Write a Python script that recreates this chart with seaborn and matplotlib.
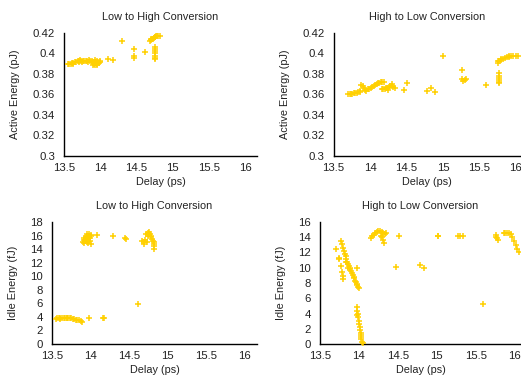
import matplotlib
matplotlib.use("Agg")
import matplotlib.pyplot as plt
import seaborn as sns
import pandas as pd

# ---------------- data ----------------
# Low to High Conversion: delay (ps) vs active energy (pJ)
lh_act_delay = [13.55, 13.57, 13.59, 13.61, 13.63, 13.65, 13.67, 13.69, 13.71, 13.72,
                13.74, 13.76, 13.78, 13.80, 13.82, 13.84, 13.86, 13.88, 13.90, 13.91,
                13.92, 13.93, 13.94, 13.95, 13.96, 13.97, 13.98, 13.99, 14.00, 13.90,
                13.93, 13.96, 13.70, 13.75, 13.62, 13.83,
                14.10, 14.18, 14.30, 14.46, 14.46, 14.46, 14.62,
                14.75, 14.75, 14.75, 14.75, 14.75, 14.75, 14.75,
                14.68, 14.70, 14.71, 14.72, 14.74, 14.75, 14.76, 14.78, 14.80, 14.82, 14.70, 14.77]
lh_act_energy = [0.390, 0.390, 0.390, 0.391, 0.391, 0.392, 0.392, 0.393, 0.393, 0.394,
                 0.393, 0.393, 0.393, 0.393, 0.393, 0.394, 0.393, 0.393, 0.392, 0.391,
                 0.390, 0.389, 0.391, 0.393, 0.390, 0.392, 0.391, 0.393, 0.392, 0.389,
                 0.394, 0.389, 0.392, 0.392, 0.390, 0.392,
                 0.395, 0.394, 0.412, 0.404, 0.398, 0.396, 0.401,
                 0.406, 0.404, 0.402, 0.400, 0.398, 0.396, 0.395,
                 0.412, 0.413, 0.414, 0.414, 0.415, 0.416, 0.416, 0.417, 0.417, 0.417, 0.414, 0.417]

# High to Low Conversion: delay (ps) vs active energy (pJ)
hl_act_delay = [13.70, 13.72, 13.74, 13.76, 13.78, 13.80, 13.82, 13.84, 13.86, 13.87,
                13.88, 13.90, 13.92, 13.93, 13.95, 13.97, 13.99, 14.01, 14.03, 14.05,
                14.07, 14.09, 14.11, 14.13, 14.15, 14.17, 14.19, 14.16, 14.18, 14.20,
                14.22, 14.24, 14.26, 14.28, 14.30, 14.32, 14.34, 14.30, 14.25, 14.89,
                14.47, 14.51, 14.78, 14.83, 15.00, 15.26, 15.26, 15.28, 15.30, 15.32, 15.59,
                15.77, 15.77, 15.77, 15.77, 15.77, 15.77,
                15.76, 15.77, 15.79, 15.82, 15.85, 15.88, 15.90, 15.93, 15.96, 16.00, 16.03, 15.76, 15.80, 15.91]
hl_act_energy = [0.360, 0.360, 0.360, 0.360, 0.361, 0.361, 0.361, 0.362, 0.362, 0.363,
                 0.369, 0.368, 0.366, 0.364, 0.363, 0.365, 0.365, 0.366, 0.367, 0.368,
                 0.369, 0.370, 0.371, 0.371, 0.372, 0.372, 0.372, 0.365, 0.365, 0.365,
                 0.366, 0.366, 0.367, 0.368, 0.368, 0.367, 0.366, 0.370, 0.364, 0.362,
                 0.3645, 0.371, 0.3635, 0.366, 0.398, 0.384, 0.375, 0.373, 0.374, 0.375, 0.369,
                 0.381, 0.378, 0.376, 0.374, 0.372, 0.371,
                 0.391, 0.393, 0.394, 0.395, 0.396, 0.397, 0.398, 0.398, 0.398, 0.398, 0.398, 0.393, 0.395, 0.397]

# Low to High Conversion: delay (ps) vs idle energy (fJ)
lh_idle_delay = [13.55, 13.57, 13.59, 13.61, 13.63, 13.65, 13.67, 13.69, 13.71, 13.73,
                 13.75, 13.77, 13.79, 13.81, 13.83, 13.85, 13.87, 13.89, 13.60, 13.70,
                 13.98, 14.16, 14.18,
                 13.90, 13.91, 13.92, 13.93, 13.94, 13.95, 13.96, 13.97, 13.98, 13.99,
                 14.00, 14.01, 13.92, 13.94, 13.96, 13.98, 14.00, 13.95, 13.97, 13.99,
                 14.09, 14.29, 14.45, 14.46, 14.62,
                 14.67, 14.69, 14.70, 14.71, 14.73,
                 14.72, 14.74, 14.76, 14.77, 14.78, 14.79, 14.80, 14.81, 14.82, 14.82, 14.83, 14.83, 14.75]
lh_idle_energy = [3.7, 3.8, 3.8, 3.85, 3.85, 3.9, 3.9, 3.85, 3.8, 3.8,
                  3.8, 3.7, 3.7, 3.6, 3.5, 3.5, 3.4, 3.3, 3.7, 3.9,
                  3.8, 3.8, 3.8,
                  15.0, 15.4, 15.6, 15.2, 15.8, 16.0, 16.2, 15.5, 15.9, 15.2,
                  14.8, 15.9, 14.9, 15.3, 15.6, 16.2, 16.1, 15.0, 14.9, 15.7,
                  16.1, 16.0, 15.6, 15.5, 5.9,
                  15.2, 15.0, 14.8, 15.3, 15.1,
                  16.2, 16.4, 16.5, 16.3, 15.8, 15.9, 15.5, 15.2, 14.8, 15.0, 14.4, 14.0, 15.9]

# High to Low Conversion: delay (ps) vs idle energy (fJ)
hl_idle_delay = [13.77, 13.78, 13.80, 13.81, 13.82, 13.83, 13.84, 13.85, 13.86, 13.87,
                 13.88, 13.89, 13.90, 13.91, 13.92, 13.93, 13.94, 13.95, 13.96, 13.97,
                 13.98, 13.99, 14.00,
                 13.71, 13.74, 13.75, 13.77, 13.78, 13.79, 13.79, 13.84, 13.86, 13.98,
                 13.97, 13.98, 13.98, 13.99, 13.99, 14.00, 14.00, 14.01, 14.01, 14.02,
                 14.02, 14.03, 14.03, 14.04, 14.05,
                 14.15, 14.17, 14.19, 14.21, 14.23, 14.25, 14.27, 14.29, 14.31, 14.33,
                 14.35, 14.30, 14.31, 14.32, 14.28,
                 14.51, 14.47, 14.78, 14.83, 15.01, 15.02, 15.27, 15.30, 15.33, 15.59,
                 15.76, 15.77, 15.78, 15.76,
                 15.86, 15.88, 15.90, 15.93, 15.95, 15.97, 15.99, 16.01, 16.03, 16.05]
hl_idle_energy = [13.5, 13.1, 12.6, 12.2, 11.8, 11.5, 11.1, 10.8, 10.5, 10.2,
                  10.0, 9.8, 9.6, 9.3, 9.1, 8.8, 8.6, 8.3, 8.1, 7.9,
                  7.7, 7.5, 7.4,
                  12.4, 11.3, 11.1, 10.2, 9.4, 8.9, 8.5, 10.8, 10.0, 10.0,
                  3.8, 4.8, 4.3, 3.5, 4.0, 3.0, 2.6, 2.2, 1.9, 1.5,
                  1.2, 0.9, 0.6, 0.3, 0.1,
                  13.9, 14.1, 14.3, 14.5, 14.7, 14.8, 14.8, 14.7, 14.6, 14.4,
                  14.6, 14.0, 13.6, 13.3, 14.2,
                  14.2, 10.1, 10.3, 10.0, 14.2, 14.1, 14.2, 14.2, 14.2, 5.2,
                  14.3, 13.9, 13.6, 14.0,
                  14.5, 14.6, 14.6, 14.6, 14.4, 14.0, 13.5, 13.0, 12.5, 12.1]

x_ticks = [13.5, 14, 14.5, 15, 15.5, 16]
x_tick_labels = ["13.5", "14", "14.5", "15", "15.5", "16"]
act_ticks = [0.3, 0.32, 0.34, 0.36, 0.38, 0.4, 0.42]
act_tick_labels = ["0.3", "0.32", "0.34", "0.36", "0.38", "0.4", "0.42"]
lh_idle_ticks = [0, 2, 4, 6, 8, 10, 12, 14, 16, 18]
hl_idle_ticks = [0, 2, 4, 6, 8, 10, 12, 14, 16]

# ---------------- style ----------------
sns.set_style("white")
plt.rcParams["font.family"] = ["Liberation Sans", "DejaVu Sans"]
FS = 7.8
TICK_FS = 8.2
COLOR = "#ffd000"

W, H = 521, 377
fig = plt.figure(figsize=(W / 100, H / 100), dpi=100)


def make_axes(left, right, top, bottom):
    return fig.add_axes([left / W, 1 - bottom / H, (right - left) / W, (bottom - top) / H])


panels = [
    dict(box=(64, 257, 33, 156), x=lh_act_delay, y=lh_act_energy, xlim=(13.5, 16.16),
         ylim=(0.3, 0.42), yticks=act_ticks, ylabels=act_tick_labels,
         title="Low to High Conversion", ylabel="Active Energy (pJ)"),
    dict(box=(333.5, 521, 33, 156), x=hl_act_delay, y=hl_act_energy, xlim=(13.5, 16.07),
         ylim=(0.3, 0.42), yticks=act_ticks, ylabels=act_tick_labels,
         title="High to Low Conversion", ylabel="Active Energy (pJ)"),
    dict(box=(52, 257, 222, 344), x=lh_idle_delay, y=lh_idle_energy, xlim=(13.5, 16.16),
         ylim=(0, 18), yticks=lh_idle_ticks, ylabels=[str(t) for t in lh_idle_ticks],
         title="Low to High Conversion", ylabel="Idle Energy (fJ)"),
    dict(box=(320, 521, 222, 344), x=hl_idle_delay, y=hl_idle_energy, xlim=(13.5, 16.08),
         ylim=(0, 16), yticks=hl_idle_ticks, ylabels=[str(t) for t in hl_idle_ticks],
         title="High to Low Conversion", ylabel="Idle Energy (fJ)"),
]

for p in panels:
    ax = make_axes(*p["box"])
    df = pd.DataFrame({"delay": p["x"], "energy": p["y"]})
    sns.scatterplot(data=df, x="delay", y="energy", marker="+", color=COLOR,
                    s=22, linewidth=1.1, ax=ax, clip_on=False, zorder=3)
    ax.set_xlim(*p["xlim"])
    ax.set_ylim(*p["ylim"])
    ax.set_xticks(x_ticks)
    ax.set_xticklabels(x_tick_labels, fontsize=TICK_FS)
    ax.set_yticks(p["yticks"])
    ax.set_yticklabels(p["ylabels"], fontsize=TICK_FS)
    ax.tick_params(axis="both", length=0, colors="#222222")
    ax.tick_params(axis="y", pad=6.5)
    ax.tick_params(axis="x", pad=5)
    ax.set_xlabel("Delay (ps)", fontsize=FS, labelpad=3, color="#222222")
    ax.set_ylabel(p["ylabel"], fontsize=FS, labelpad=9, color="#222222")
    ax.set_title(p["title"], fontsize=FS, pad=9, color="#222222")
    for side in ["top", "right"]:
        ax.spines[side].set_visible(False)
    for side in ["left", "bottom"]:
        ax.spines[side].set_color("black")
        ax.spines[side].set_linewidth(1.0)
    ax.grid(False)

fig.savefig("out.png", dpi=100)
